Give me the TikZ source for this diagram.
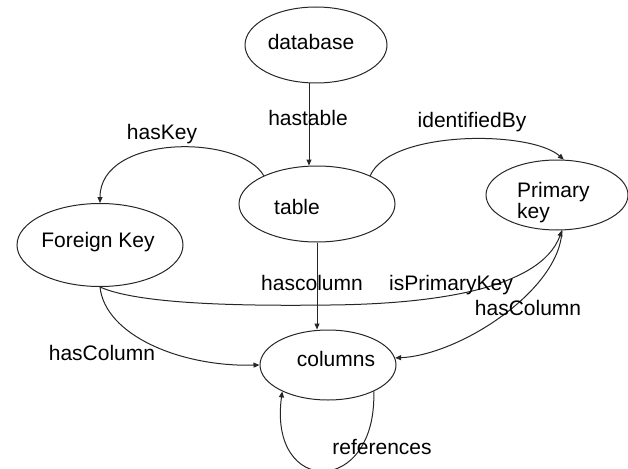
\documentclass[tikz,border=0pt]{standalone}
\usepackage{fontspec}
\setmainfont{Liberation Sans}
\usetikzlibrary{shapes.geometric,arrows.meta}
\begin{document}
\begin{tikzpicture}[x=1pt,y=-1pt,
  entity/.style={draw=black!85,line width=1pt,ellipse,inner sep=0pt},
  txt/.style={inner sep=0pt,anchor=base,font=\fontsize{21}{25}\selectfont},
  rel/.style={draw=black!85,line width=1pt,-{Triangle[length=6pt,width=5pt]}}]
\useasboundingbox (0,0) rectangle (628,468);

% entities
\node[entity,minimum width=142pt,minimum height=76pt] (db)    at (316,45)  {};
\node[entity,minimum width=156pt,minimum height=76pt] (table) at (317,204) {};
\node[entity,minimum width=142pt,minimum height=70pt] (pk)    at (557,195) {};
\node[entity,minimum width=166pt,minimum height=83pt] (fk)    at (100,245) {};
\node[entity,minimum width=136pt,minimum height=70pt] (cols)  at (328,365) {};

% entity names
\node[txt] (tdb)    at (311,50)  {database};
\node[txt] (ttable) at (297,214) {table};
\node[txt,anchor=base west] (tpk1) at (517,197) {Primary};
\node[txt,anchor=base west] (tpk2) at (517,218) {key};
\node[txt] (tfk)    at (98,247)  {Foreign Key};
\node[txt] (tcols)  at (336,366) {columns};

% relations
\draw[rel] ([xshift=-7pt]db.south) -- ([xshift=-8pt]table.north);
\draw[rel] (table.south) -- (cols.north -| table.south);
\draw[rel] (table.152) .. controls (240,134) and (100,134) .. (fk.north);
\draw[rel] (table.28) .. controls (390,130) and (530,130) .. (pk.79);
\coordinate (ipk) at (330,305);
\draw[rel] (fk.south) .. controls (140,305) and (250,306) .. (ipk)
                      .. controls (430,304) and (540,290) .. (pk.278);
\draw[rel] (fk.south) .. controls (105,335) and (180,367) .. (cols.west);
\draw[rel] (pk.278) .. controls (560,290) and (460,355) .. (cols.6);
\draw[rel] (cols.330) .. controls (377,497) and (268,497) .. (cols.210);

% relation labels
\node[txt] (lhastable) at (308,125) {hastable};
\node[txt] (lhaskey)   at (162,139) {hasKey};
\node[txt] (lident)    at (472,127) {identifiedBy};
\node[txt] (lhascol)   at (312,290) {hascolumn};
\node[txt,anchor=base east] (lispk) at (513,290) {isPrimaryKey};
\node[txt] (lhasColR)  at (528,315) {hasColumn};
\node[txt] (lhasColL)  at (102,360) {hasColumn};
\node[txt] (lrefs)     at (382,454) {references};
\end{tikzpicture}
\end{document}
